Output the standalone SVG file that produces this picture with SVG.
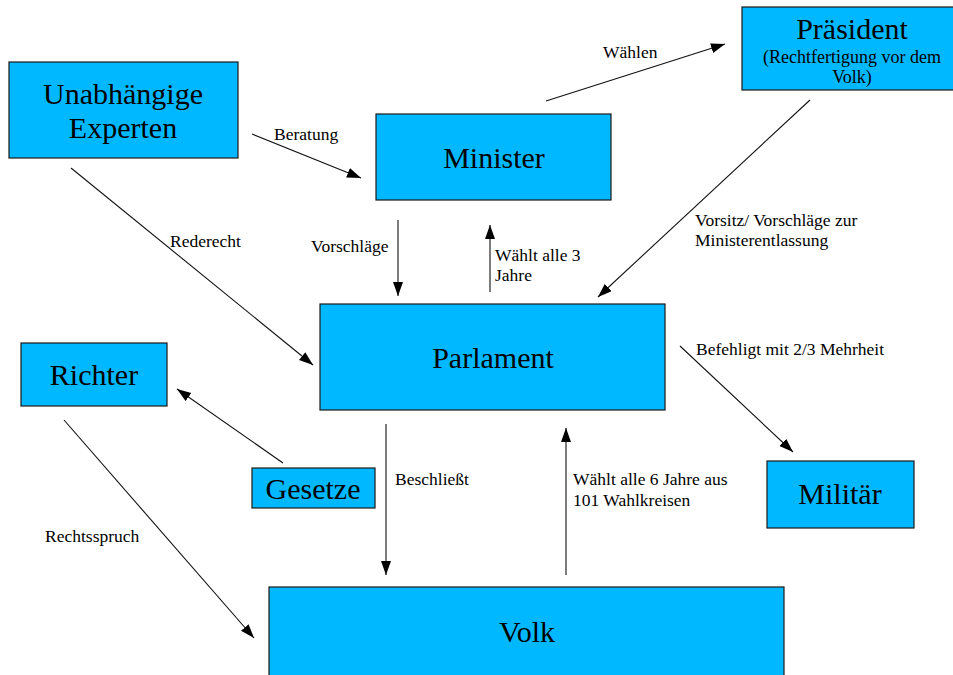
<svg xmlns="http://www.w3.org/2000/svg" width="953" height="675" viewBox="0 0 953 675">
  <style>
    text { font-family: 'Liberation Serif', Tinos, 'Times New Roman', 'DejaVu Serif', serif; fill: #000; }
    .box { fill: #00b8ff; stroke: #1a1a1a; stroke-width: 1.2; }
    .title { font-size: 30px; text-anchor: middle; }
    .sub { font-size: 18px; text-anchor: middle; }
    .lbl { font-size: 17.5px; }
    .edge { stroke: #111; stroke-width: 1.1; fill: none; marker-end: url(#head); }
  </style>
  <defs>
    <marker id="head" markerUnits="userSpaceOnUse" markerWidth="15" markerHeight="12" refX="14" refY="5" orient="auto">
      <path d="M0,0 L14,5 L0,10 Z" fill="#000"/>
    </marker>
  </defs>
  <rect width="953" height="675" fill="#fff"/>

  <!-- connectors -->
  <g id="connectors">
    <line class="edge" x1="252" y1="134" x2="361" y2="178"/>
    <line class="edge" x1="71" y1="168" x2="313" y2="365"/>
    <line class="edge" x1="398" y1="220" x2="398" y2="296"/>
    <line class="edge" x1="490" y1="292" x2="490" y2="225"/>
    <line class="edge" x1="546" y1="101" x2="725" y2="44"/>
    <line class="edge" x1="810" y1="100" x2="598" y2="297"/>
    <line class="edge" x1="680" y1="346" x2="793" y2="452"/>
    <line class="edge" x1="283" y1="463" x2="177" y2="389"/>
    <line class="edge" x1="64" y1="420" x2="254" y2="638"/>
    <line class="edge" x1="386" y1="424" x2="386" y2="575"/>
    <line class="edge" x1="566" y1="575" x2="566" y2="428"/>

    <text class="lbl" x="274" y="140">Beratung</text>
    <text class="lbl" x="170" y="247">Rederecht</text>
    <text class="lbl" x="311" y="252">Vorschläge</text>
    <text class="lbl" x="495" y="261">Wählt alle 3</text>
    <text class="lbl" x="495" y="281">Jahre</text>
    <text class="lbl" x="603" y="58">Wählen</text>
    <text class="lbl" x="695" y="226">Vorsitz/ Vorschläge zur</text>
    <text class="lbl" x="695" y="246">Ministerentlassung</text>
    <text class="lbl" x="696" y="355">Befehligt mit 2/3 Mehrheit</text>
    <text class="lbl" x="45" y="542">Rechtsspruch</text>
    <text class="lbl" x="395" y="485">Beschließt</text>
    <text class="lbl" x="573" y="485">Wählt alle 6 Jahre aus</text>
    <text class="lbl" x="573" y="506">101 Wahlkreisen</text>
  </g>

  <g id="experten">
    <rect class="box" x="9" y="62" width="229" height="96"/>
    <text class="title" x="123" y="104">Unabhängige</text>
    <text class="title" x="123" y="138">Experten</text>
  </g>

  <g id="minister">
    <rect class="box" x="376" y="114" width="235" height="86"/>
    <text class="title" x="494" y="168">Minister</text>
  </g>

  <g id="praesident">
    <rect class="box" x="742" y="7" width="215" height="83"/>
    <text class="title" x="852" y="39">Präsident</text>
    <text class="sub" x="852" y="63">(Rechtfertigung vor dem</text>
    <text class="sub" x="852" y="83">Volk)</text>
  </g>

  <g id="parlament">
    <rect class="box" x="320" y="304" width="345" height="106"/>
    <text class="title" x="493" y="368">Parlament</text>
  </g>

  <g id="richter">
    <rect class="box" x="21" y="343" width="146" height="63"/>
    <text class="title" x="94" y="385">Richter</text>
  </g>

  <g id="gesetze">
    <rect class="box" x="252" y="468" width="123" height="40"/>
    <text class="title" x="313" y="499">Gesetze</text>
  </g>

  <g id="militaer">
    <rect class="box" x="767" y="461" width="147" height="67"/>
    <text class="title" x="840" y="504">Militär</text>
  </g>

  <g id="volk">
    <rect class="box" x="269" y="587" width="515" height="95"/>
    <text class="title" x="527" y="642">Volk</text>
  </g>
</svg>
